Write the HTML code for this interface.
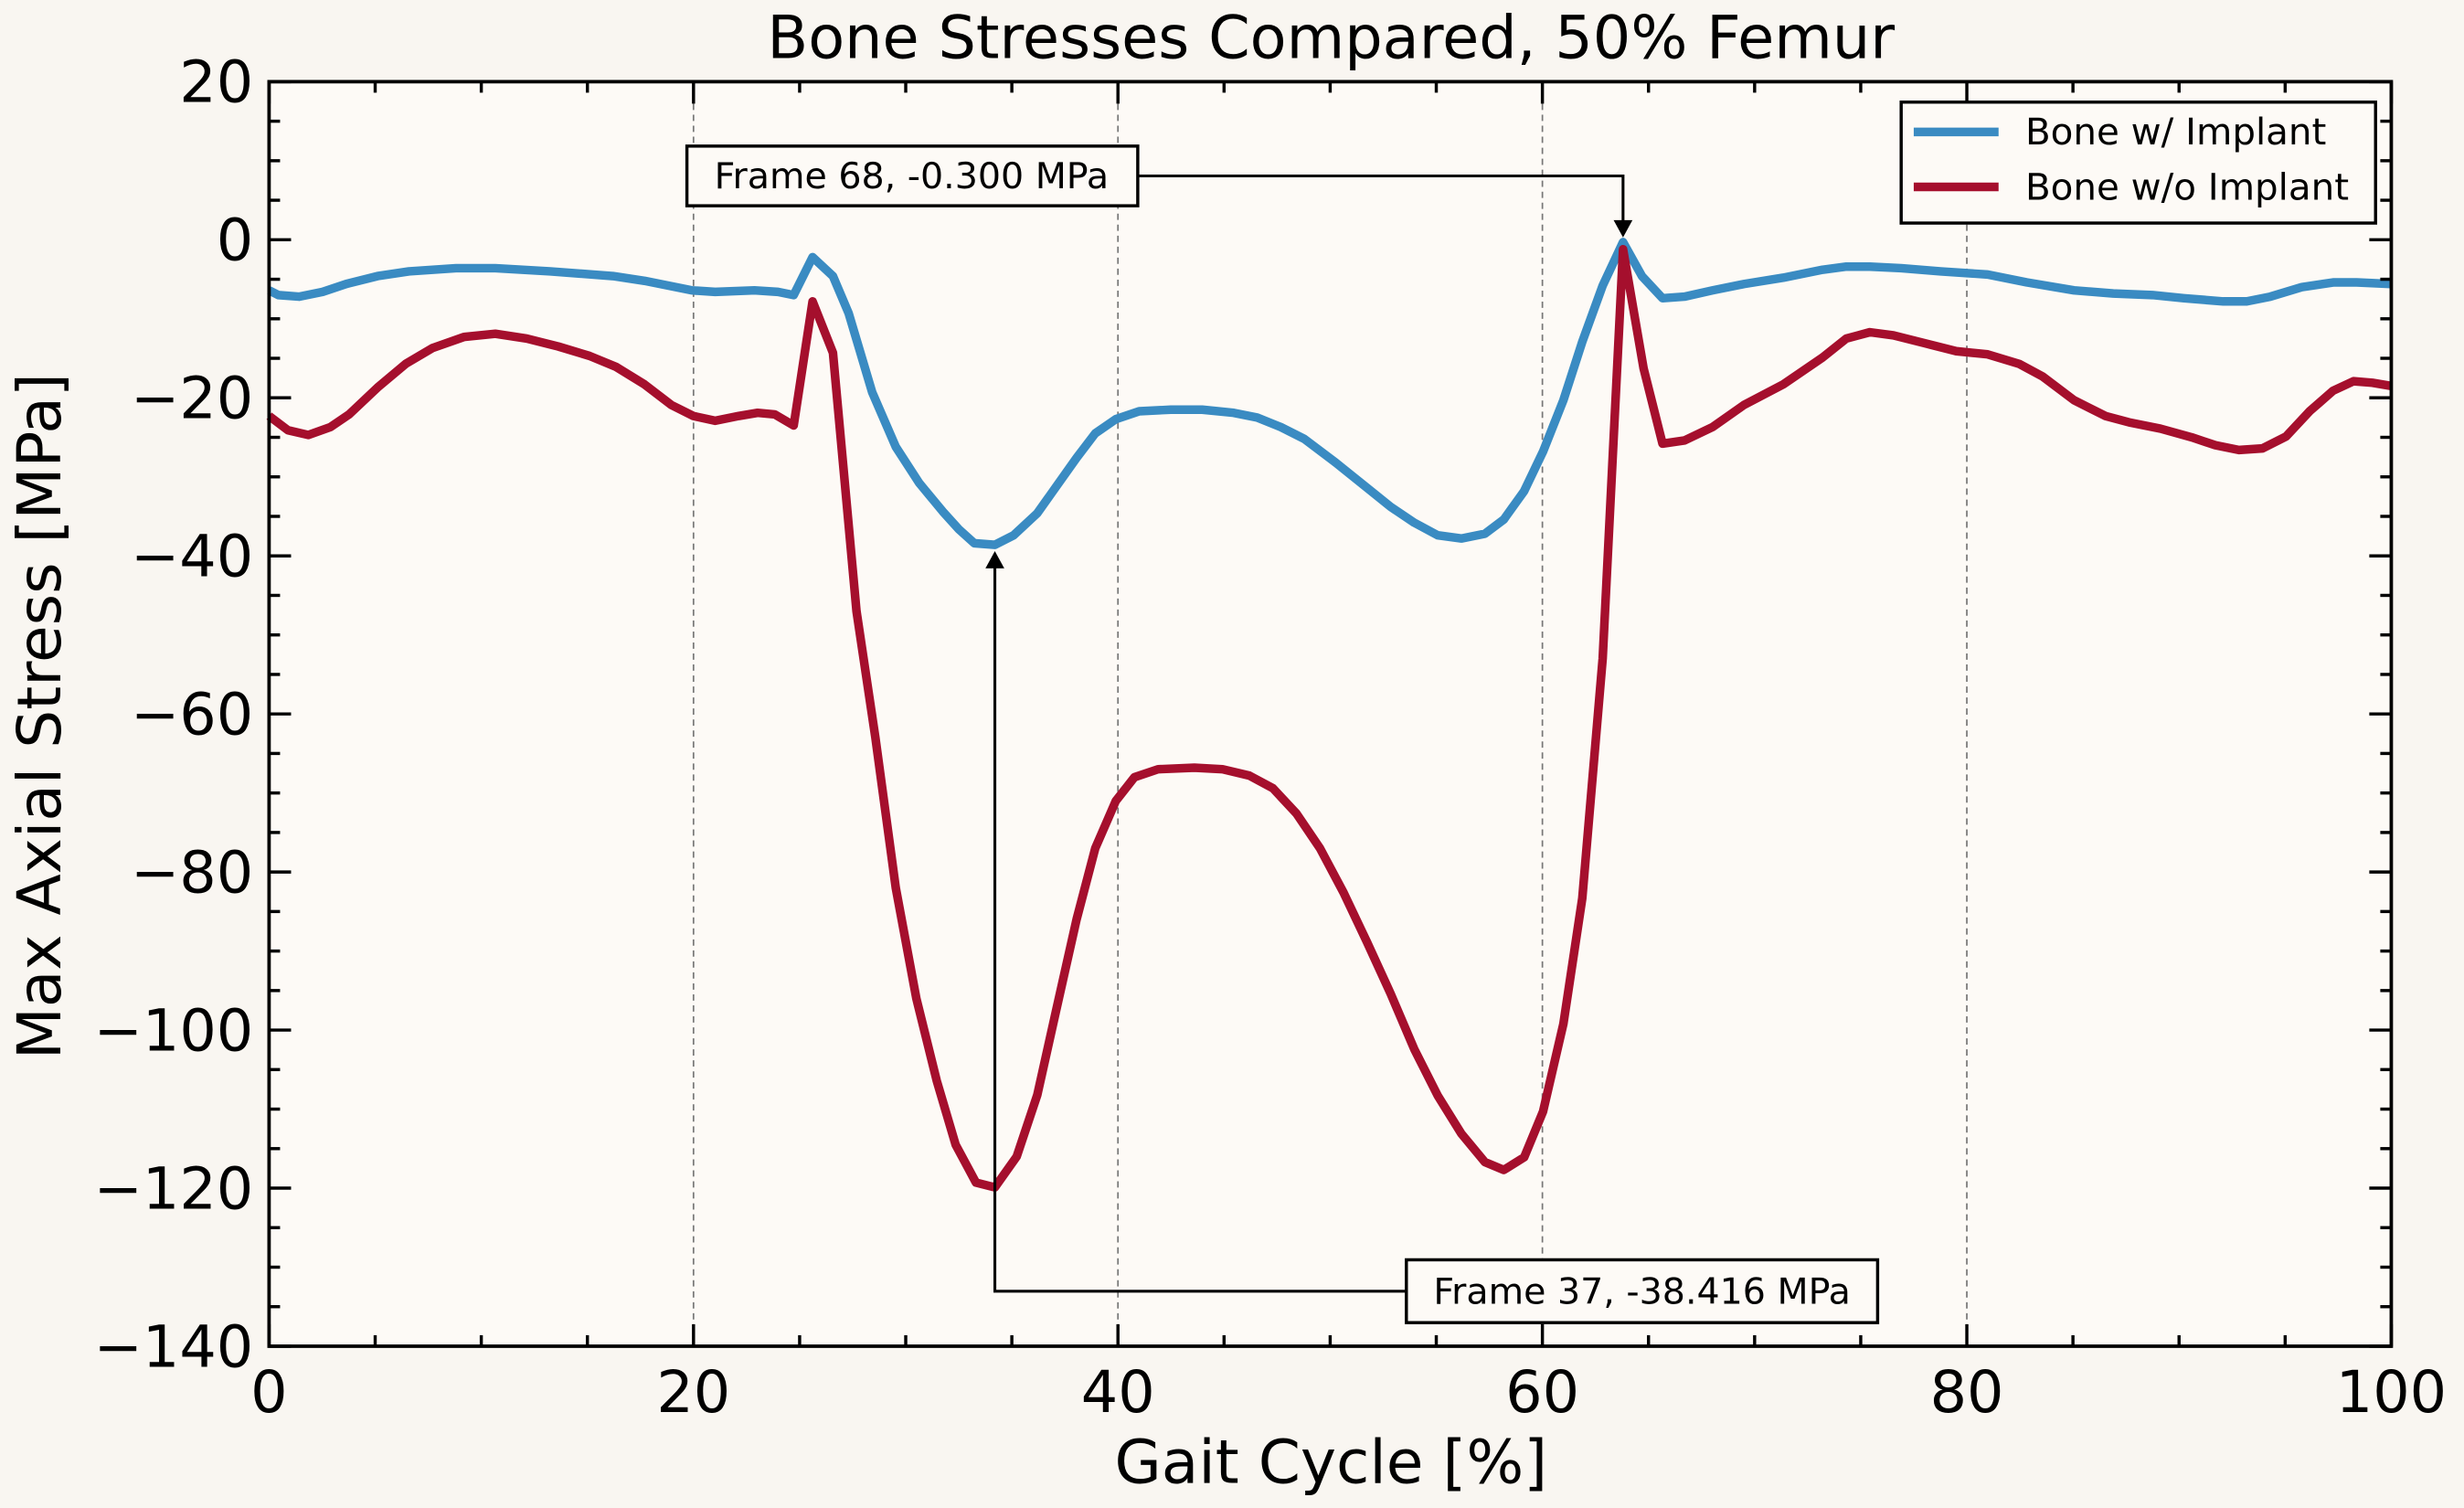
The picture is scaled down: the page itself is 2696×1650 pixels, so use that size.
<!DOCTYPE html>
<html><head><meta charset="utf-8"><style>
html,body{margin:0;padding:0;background:#f9f6f1;}
svg{display:block;font-family:"DejaVu Sans","Liberation Sans",sans-serif;}
</style></head><body>
<svg id="chart" width="2696" height="1650" viewBox="0 0 1568 960" xmlns="http://www.w3.org/2000/svg">
<rect x="0" y="0" width="1568" height="960" fill="#f9f6f1"/>
<rect x="171" y="52" width="1351" height="805" fill="#fdfaf6"/>
<g id="grid"></g>
<g id="series"></g>
<g id="ticks"></g>
<rect x="171" y="52" width="1351" height="805" fill="none" stroke="#000" stroke-width="2.2"/>
<text x="847" y="37" font-size="38" text-anchor="middle">Bone Stresses Compared, 50% Femur</text>
<text x="847" y="944" font-size="38.5" text-anchor="middle">Gait Cycle [%]</text>
<text transform="translate(38,456) rotate(-90)" font-size="38.5" text-anchor="middle">Max Axial Stress [MPa]</text>
<g id="annot"></g>
<g>
<rect x="1210" y="65" width="302" height="77" fill="#fdfaf6" stroke="#000" stroke-width="2"/>
<line x1="1218" y1="84" x2="1272" y2="84" stroke="#3a8bc2" stroke-width="5.5"/>
<text x="1289" y="92" font-size="23.5">Bone w/ Implant</text>
<line x1="1218" y1="119" x2="1272" y2="119" stroke="#a50f2d" stroke-width="5.5"/>
<text x="1289" y="127" font-size="23.5">Bone w/o Implant</text>
</g>
</svg>
<script>
const blueX=[0,0.44,1.41,2.52,3.63,5.11,6.59,8.81,10.66,13.25,16.21,17.69,19.91,21.02,22.87,23.98,24.72,25.61,26.57,27.31,28.42,29.53,30.64,31.75,32.49,33.23,34.2,35.08,36.2,36.94,38.05,38.93,39.9,41.0,42.49,43.97,45.45,46.56,47.67,48.78,50.26,51.74,52.85,53.96,55.07,56.18,57.29,58.18,59.14,60.03,60.99,61.88,62.84,63.8,64.69,65.66,66.69,68.02,69.5,71.35,73.2,74.32,75.43,76.91,78.76,80.98,82.83,85.05,86.9,88.75,90.23,92.08,93.19,94.3,95.78,97.26,98.37,100];
const blueY=[-6.4,-7,-7.2,-6.6,-5.6,-4.6,-4,-3.6,-3.6,-4,-4.6,-5.2,-6.4,-6.6,-6.4,-6.6,-7,-2.2,-4.6,-9.3,-19.3,-26.2,-30.8,-34.4,-36.6,-38.4,-38.6,-37.4,-34.6,-31.8,-27.6,-24.5,-22.7,-21.7,-21.5,-21.5,-21.9,-22.5,-23.7,-25.2,-28.2,-31.4,-33.8,-35.8,-37.4,-37.8,-37.2,-35.4,-31.8,-26.8,-20.3,-12.9,-5.8,-0.3,-4.6,-7.4,-7.2,-6.4,-5.6,-4.8,-3.8,-3.4,-3.4,-3.6,-4,-4.4,-5.4,-6.4,-6.8,-7,-7.4,-7.8,-7.8,-7.2,-6,-5.4,-5.4,-5.6];
const redX=[0,0.89,1.85,2.89,3.77,5.11,6.44,7.70,9.18,10.66,12.14,13.62,15.1,16.36,17.69,18.95,19.99,21.02,22.13,23.02,23.83,24.72,25.61,26.57,27.68,28.57,29.53,30.5,31.46,32.35,33.31,34.2,35.23,36.2,37.08,38.05,38.93,39.9,40.78,41.89,43.6,44.93,46.19,47.3,48.41,49.52,50.63,51.74,52.85,53.96,55.07,56.18,57.29,58.18,59.14,60.03,60.99,61.88,62.84,63.8,64.77,65.66,66.69,68.02,69.5,71.35,73.2,74.32,75.43,76.54,78.02,79.5,80.98,82.46,83.57,85.05,86.53,87.64,89.12,90.6,91.71,92.82,93.93,95.04,96.15,97.26,98.22,99.11,100];
const redY=[-22.3,-24.1,-24.7,-23.7,-22.1,-18.7,-15.7,-13.7,-12.3,-11.9,-12.5,-13.5,-14.7,-16.1,-18.3,-20.9,-22.3,-22.9,-22.3,-21.9,-22.1,-23.5,-7.8,-14.3,-47,-63,-82,-96,-106.4,-114.5,-119.3,-119.9,-116,-108.2,-97.6,-86,-77,-71,-68,-67,-66.8,-67,-67.8,-69.4,-72.6,-77,-82.6,-88.9,-95.4,-102.4,-108.3,-113.1,-116.7,-117.7,-116.1,-110.3,-99.2,-83.3,-53,-1.2,-16.3,-25.8,-25.4,-23.7,-20.9,-18.3,-14.9,-12.5,-11.7,-12.1,-13.1,-14.1,-14.5,-15.7,-17.3,-20.3,-22.3,-23.1,-23.9,-25,-26,-26.6,-26.4,-24.9,-21.7,-19.1,-17.9,-18.1,-18.5];
const xTicks=[0,20,40,60,80,100];
const yTicks=[20,0,-20,-40,-60,-80,-100,-120,-140];
const annotPeak={x:63.8,y:-0.3,label:"Frame 68, -0.300 MPa"};
const annotMin={x:34.2,y:-38.6,label:"Frame 37, -38.416 MPa"};

const NS="http://www.w3.org/2000/svg";
const X0=171,X1=1522,Y0=857,Y1=52;
function sx(v){return X0+(v-0)/(100-0)*(X1-X0);}
function sy(v){return Y0-(v-(-140))/(20-(-140))*(Y0-Y1);}
function mk(tag,attrs,parent){const e=document.createElementNS(NS,tag);for(const k in attrs)e.setAttribute(k,attrs[k]);parent.appendChild(e);return e;}
const grid=document.getElementById('grid'),ticks=document.getElementById('ticks'),series=document.getElementById('series'),annot=document.getElementById('annot');
[20,40,60,80].forEach(v=>{
  const l=mk('line',{x1:sx(v),x2:sx(v),y1:Y1,y2:Y0,stroke:'#777','stroke-width':1,'stroke-dasharray':'4,3'},grid);
  
  
});
for(let v=0;v<=100;v+=5){
  const len=(v%20===0)?14:7;
  const a=mk('line',{x1:sx(v),x2:sx(v),y1:Y0,y2:Y0-len,stroke:'#000','stroke-width':2},ticks);
  
  
  const b=mk('line',{x1:sx(v),x2:sx(v),y1:Y1,y2:Y1+len,stroke:'#000','stroke-width':2},ticks);
  
  
}
for(let v=-140;v<=20;v+=5){
  const len=(v%20===0)?14:7;
  const a=mk('line',{x1:X0,x2:X0+len,y1:sy(v),y2:sy(v),stroke:'#000','stroke-width':2},ticks);
  
  
  const b=mk('line',{x1:X1,x2:X1-len,y1:sy(v),y2:sy(v),stroke:'#000','stroke-width':2},ticks);
  
  
}
xTicks.forEach(v=>{
  const t=mk('text',{x:sx(v),y:Y0+42,'font-size':37,'text-anchor':'middle'},ticks);
  t.textContent=String(v);
  
  
});
yTicks.forEach(v=>{
  const t=mk('text',{x:X0-10,y:sy(v)+13,'font-size':37,'text-anchor':'end'},ticks);
  t.textContent=(v<0?'\u2212'+Math.abs(v):String(v));
  
  
});
function pathOf(xs,ys){return xs.map((x,i)=>(i?'L':'M')+sx(x).toFixed(2)+','+sy(ys[i]).toFixed(2)).join(' ');}
const pb=mk('path',{d:pathOf(blueX,blueY),fill:'none',stroke:'#3a8bc2','stroke-width':5.5,'stroke-linejoin':'round'},series);


const pr=mk('path',{d:pathOf(redX,redY),fill:'none',stroke:'#a50f2d','stroke-width':5.5,'stroke-linejoin':'round'},series);



{
  const px=sx(annotPeak.x),py=sy(annotPeak.y);
  const ln=mk('path',{d:`M724,112 L${px},112 L${px},${py-12}`,fill:'none',stroke:'#000','stroke-width':1.8},annot);
  
  
  const ah=mk('path',{d:`M${px-6},${py-14} L${px+6},${py-14} L${px},${py-3} Z`,fill:'#000'},annot);
  
  
  const r=mk('rect',{x:437,y:93,width:287,height:38,fill:'#fdfaf6',stroke:'#000','stroke-width':2},annot);
  
  
  const t=mk('text',{x:580,y:120,'font-size':23,'text-anchor':'middle'},annot);
  t.textContent=annotPeak.label;
  
  
}
{
  const px=sx(annotMin.x),py=sy(annotMin.y);
  const ln=mk('path',{d:`M895,822 L${px},822 L${px},${py+12}`,fill:'none',stroke:'#000','stroke-width':1.8},annot);
  
  
  const ah=mk('path',{d:`M${px-6},${py+15} L${px+6},${py+15} L${px},${py+4} Z`,fill:'#000'},annot);
  
  
  const r=mk('rect',{x:895,y:802,width:300,height:40,fill:'#fdfaf6',stroke:'#000','stroke-width':2},annot);
  
  
  const t=mk('text',{x:1045,y:830,'font-size':23,'text-anchor':'middle'},annot);
  t.textContent=annotMin.label;
  
  
}
</script>
</body></html>
